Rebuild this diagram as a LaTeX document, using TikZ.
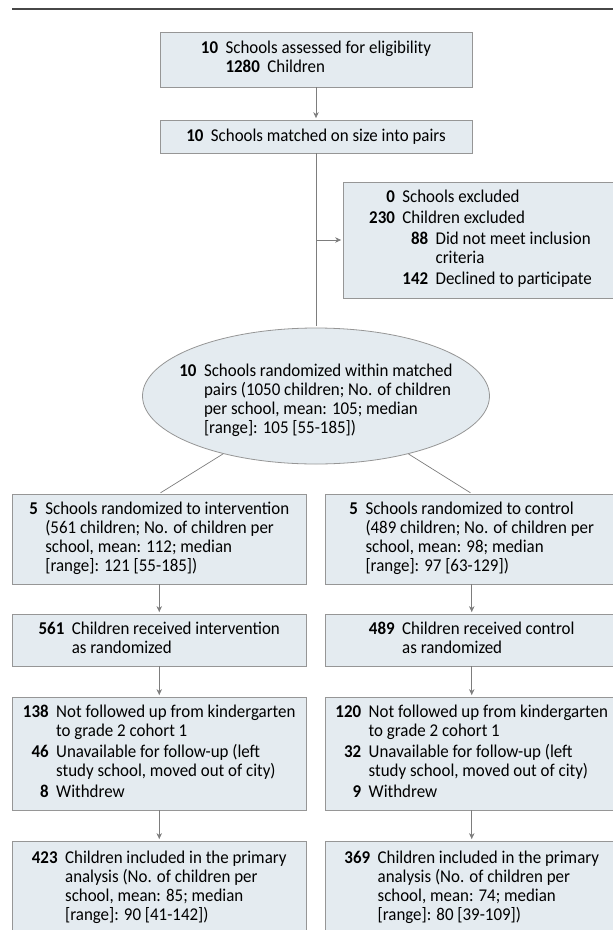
\documentclass[tikz,border=0pt]{standalone}
\usepackage{fontspec}
\setmainfont{Carlito}[FakeStretch=0.94]
\usepackage{tikz}
\usetikzlibrary{shapes,arrows.meta}
\definecolor{boxfill}{RGB}{228,235,240}
\definecolor{boxline}{RGB}{150,150,150}
\definecolor{linkgray}{RGB}{125,125,125}
\newcommand{\Nb}[1]{\textbf{#1}}
\newcommand{\Sp}{\hspace{7.5pt}}
\tikzset{
  flowbox/.style={draw=boxline, fill=boxfill, line width=0.8pt, inner sep=0pt, align=center},
  ovalbox/.style={ellipse, draw=boxline, fill=boxfill, line width=0.8pt, inner sep=-20pt,
                  minimum width=347pt, minimum height=136pt},
  link/.style={draw=linkgray, line width=0.7pt, shorten >=1.5pt},
  >={Stealth[length=6pt,width=5.5pt]}
}

\begin{document}
\begin{tikzpicture}[x=1pt, y=1pt, every node/.style={font=\fontsize{18}{19}\selectfont}]
         \useasboundingbox (0,0) rectangle (613,-930);
         \draw [line width=2pt, color=black!72] (12,-8.5) -- (620,-8.5);
         % enrolment
         \node [flowbox, minimum width=312pt, minimum height=55pt] (EL) at (316,-59.5)
               {\begin{tabular}{@{}r@{\Sp}l@{}}\Nb{10} & Schools assessed for eligibility\\
                 & \Nb{1280}\Sp Children\end{tabular}};
         \node [flowbox, minimum width=312pt, minimum height=33pt] (MA) at (316,-136.5)
               {\Nb{10}\Sp Schools matched on size into pairs};
         \node [flowbox, minimum width=275pt, minimum height=116pt] (EX) at (480.5,-240)
               {\begin{tabular}{@{}r@{\Sp}l@{}}\Nb{0} & Schools excluded\\[2pt]
                 \Nb{230} & Children excluded\\[2pt]
                 & \begin{tabular}[t]{@{}r@{\Sp}l@{}}\Nb{88} & Did not meet inclusion\\
                   & criteria\\[2pt]
                   \Nb{142} & Declined to participate\end{tabular}\end{tabular}};
         \node [ovalbox] (RA) at (316,-396)
               {\raisebox{-5pt}[\height][\depth]{\begin{tabular}{@{}r@{\Sp}l@{}}
                 \Nb{10} & Schools randomized within matched\\
                 & pairs (1050 children; No. of children\\
                 & per school, mean: 105; median\\
                 & [range]: 105 [55-185])\end{tabular}}};
         % allocation
         \node [flowbox, minimum width=293.5pt, minimum height=90pt] (IR) at (159.25,-539)
               {\begin{tabular}{@{}r@{\Sp}l@{}}\Nb{5} & Schools randomized to intervention\\
                 & (561 children; No. of children per\\
                 & school, mean: 112; median\\
                 & [range]: 121 [55-185])\end{tabular}};
         \node [flowbox, minimum width=293.5pt, minimum height=90pt] (CR) at (471.75,-539)
               {\begin{tabular}{@{}r@{\Sp}l@{}}\Nb{5} & Schools randomized to control\\
                 & (489 children; No. of children per\\
                 & school, mean: 98; median\\
                 & [range]: 97 [63-129])\end{tabular}};
         \node [flowbox, minimum width=293.5pt, minimum height=52pt] (IV) at (159.25,-640)
               {\begin{tabular}{@{}r@{\Sp}l@{}}\Nb{561} & Children received intervention\\
                 & as randomized\end{tabular}};
         \node [flowbox, minimum width=293.5pt, minimum height=52pt] (CV) at (471.75,-640)
               {\begin{tabular}{@{}r@{\Sp}l@{}}\Nb{489} & Children received control\\
                 & as randomized\end{tabular}};
         % follow-up
         \node [flowbox, minimum width=293.5pt, minimum height=113pt] (IF) at (159.25,-753.5)
               {\begin{tabular}{@{}r@{\Sp}l@{}}\Nb{138} & Not followed up from kindergarten\\
                 & to grade 2 cohort 1\\[2pt]
                 \Nb{46} & Unavailable for follow-up (left\\
                 & study school, moved out of city)\\[2pt]
                 \Nb{8} & Withdrew\end{tabular}};
         \node [flowbox, minimum width=293.5pt, minimum height=113pt] (CF) at (471.75,-753.5)
               {\begin{tabular}{@{}r@{\Sp}l@{}}\Nb{120} & Not followed up from kindergarten\\
                 & to grade 2 cohort 1\\[2pt]
                 \Nb{32} & Unavailable for follow-up (left\\
                 & study school, moved out of city)\\[2pt]
                 \Nb{9} & Withdrew\end{tabular}};
         % analysis
         \node [flowbox, minimum width=293.5pt, minimum height=94pt] (IA) at (159.25,-888)
               {\begin{tabular}{@{}r@{\Sp}l@{}}\Nb{423} & Children included in the primary\\
                 & analysis (No. of children per\\
                 & school, mean: 85; median\\
                 & [range]: 90 [41-142])\end{tabular}};
         \node [flowbox, minimum width=293.5pt, minimum height=94pt] (CA) at (471.75,-888)
               {\begin{tabular}{@{}r@{\Sp}l@{}}\Nb{369} & Children included in the primary\\
                 & analysis (No. of children per\\
                 & school, mean: 74; median\\
                 & [range]: 80 [39-109])\end{tabular}};
         \draw [link, ->] (EL) -- (MA);
         \draw [link] (MA) -- (RA);
         \draw [link, ->] (MA.south |- EX.west) -- (EX.west);
         \draw [link] (RA) -- (IR.north);
         \draw [link] (RA) -- (CR.north);
         \draw [link, ->] (IR) -- (IV);
         \draw [link, ->] (CR) -- (CV);
         \draw [link, ->] (IV) -- (IF);
         \draw [link, ->] (CV) -- (CF);
         \draw [link, ->] (IF) -- (IA);
         \draw [link, ->] (CF) -- (CA);
 \end{tikzpicture}
\end{document}
